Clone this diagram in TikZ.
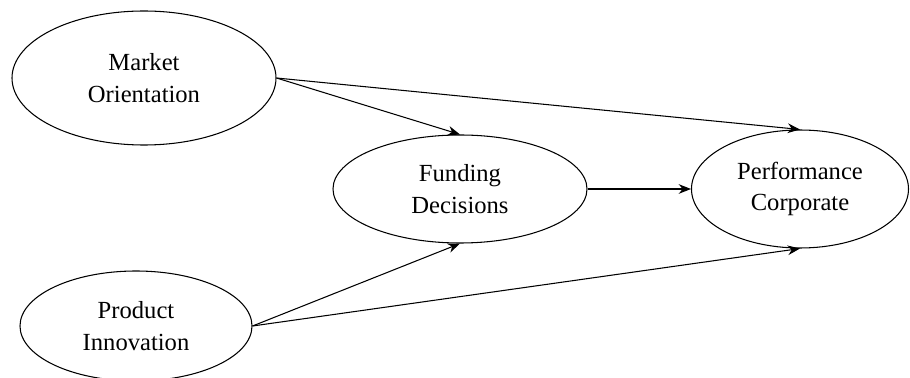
\documentclass[tikz,border=0pt]{standalone}
\usepackage{fontspec}
\setmainfont{Liberation Serif}
\usetikzlibrary{shapes.geometric,arrows.meta}

\begin{document}
\begin{tikzpicture}[
    var/.style={ellipse, draw, line width=0.6pt, inner sep=0pt, align=center,
      font=\fontsize{14}{18}\selectfont},
    arr/.style={line width=0.6pt, -{Stealth[length=7pt,width=5.5pt]}}]

    \useasboundingbox (0,0) rectangle (18.2,7.56);

    \node[var, minimum width=5.28cm, minimum height=2.68cm] (mo) at (2.88, 6.0) {Market\\Orientation};
    \node[var, minimum width=5.08cm, minimum height=2.16cm] (fd) at (9.2, 3.78) {Funding\\Decisions};
    \node[var, minimum width=4.34cm, minimum height=2.36cm] (pc) at (16.0, 3.78) {Performance\\Corporate};
    \node[var, minimum width=4.64cm, minimum height=2.2cm] (pi) at (2.72, 1.04) {Product\\Innovation};

    \draw [arr] (mo.east) to (fd.north);
    \draw [arr] (mo.east) to (pc.north);
    \draw [arr] (pi.east) to (fd.south);
    \draw [arr] (pi.east) to (pc.south);
    \draw [arr] (fd.east) to (pc.west);

\end{tikzpicture}
\end{document}
